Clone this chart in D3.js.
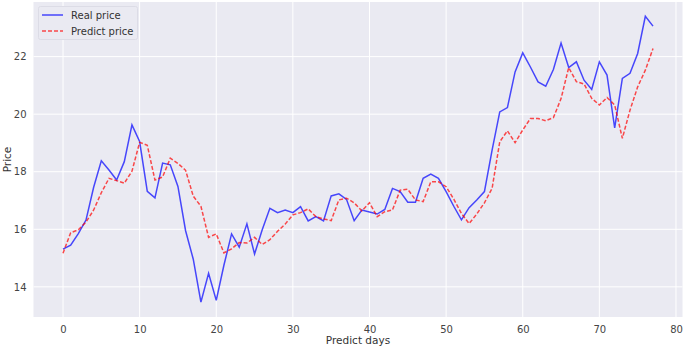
<!DOCTYPE html>
<html lang="en">
<head>
  <meta charset="UTF-8">
  <title>Real vs predict price</title>
  <style>
    body { margin: 0; background: #fff; }
    text { font-family: 'DejaVu Sans', sans-serif; }
  </style>
</head>
<body>

  <svg id="svg" width="685" height="349"></svg>

  <script src="https://d3js.org/d3.v7.min.js"></script>
  <script>
    // values, one per predict day (0..77)
    const realPrice = [
      15.31, 15.45, 15.85, 16.32, 17.46, 18.38, 18.06, 17.71, 18.35, 19.63,
      19.05, 17.32, 17.09, 18.30, 18.24, 17.49, 15.95, 14.96, 13.47, 14.47,
      13.53, 14.75, 15.84, 15.38, 16.19, 15.14, 15.98, 16.73, 16.58, 16.67,
      16.58, 16.79, 16.29, 16.44, 16.29, 17.16, 17.23, 17.04, 16.30, 16.67,
      16.60, 16.53, 16.69, 17.42, 17.31, 16.94, 16.94, 17.77, 17.92, 17.77,
      17.31, 16.80, 16.33, 16.75, 17.02, 17.31, 18.75, 20.08, 20.23, 21.47,
      22.13, 21.64, 21.12, 20.97, 21.55, 22.47, 21.62, 21.82, 21.18, 20.86,
      21.82, 21.36, 19.52, 21.24, 21.42, 22.11, 23.40, 23.06
    ]
    const predictPrice = [
      15.17, 15.88, 15.98, 16.25, 16.67, 17.27, 17.77, 17.69, 17.60, 18.02,
      19.02, 18.92, 17.71, 17.82, 18.47, 18.29, 18.05, 17.15, 16.80, 15.72,
      15.84, 15.18, 15.32, 15.54, 15.52, 15.72, 15.47, 15.64, 15.93, 16.18,
      16.50, 16.58, 16.71, 16.44, 16.36, 16.30, 17.02, 17.08, 16.92, 16.64,
      16.92, 16.44, 16.61, 16.67, 17.36, 17.39, 17.02, 16.96, 17.65, 17.65,
      17.48, 17.05, 16.55, 16.20, 16.53, 16.92, 17.42, 19.04, 19.42, 19.01,
      19.45, 19.85, 19.85, 19.77, 19.88, 20.54, 21.62, 21.13, 21.05, 20.55,
      20.32, 20.58, 20.32, 19.16, 20.14, 20.95, 21.53, 22.28
    ]
    const xTicks = [0, 10, 20, 30, 40, 50, 60, 70, 80]
    const yTicks = [14, 16, 18, 20, 22]
    const seriesNames = ['Real price', 'Predict price']

    const svg = d3.select('#svg')

    const plotLeft = 33.5, plotRight = 682.5, plotTop = 2, plotBottom = 317

    const xScale = d3.scaleLinear()
      .domain([-3.85, 80.85])
      .range([plotLeft, plotRight])

    const yScale = d3.scaleLinear()
      .domain([12.952, 23.898])
      .range([plotBottom, plotTop])

    // plot background
    svg.append('rect')
      .attr('x', plotLeft)
      .attr('y', plotTop)
      .attr('width', plotRight - plotLeft)
      .attr('height', plotBottom - plotTop)
      .attr('fill', '#eaeaf2')

    // grid
    svg.append('g')
      .selectAll('line')
      .data(xTicks)
      .enter()
      .append('line')
      .attr('x1', d => xScale(d))
      .attr('x2', d => xScale(d))
      .attr('y1', plotTop)
      .attr('y2', plotBottom)
      .attr('stroke', '#fff')
      .attr('stroke-width', 1)

    svg.append('g')
      .selectAll('line')
      .data(yTicks)
      .enter()
      .append('line')
      .attr('x1', plotLeft)
      .attr('x2', plotRight)
      .attr('y1', d => yScale(d))
      .attr('y2', d => yScale(d))
      .attr('stroke', '#fff')
      .attr('stroke-width', 1)

    // axes (tick labels only, seaborn style)
    const xAxis = svg.append('g')
      .attr('transform', `translate(0,${plotBottom})`)
      .call(d3.axisBottom(xScale).tickValues(xTicks).tickSize(0).tickPadding(9))
    const yAxis = svg.append('g')
      .attr('transform', `translate(${plotLeft},0)`)
      .call(d3.axisLeft(yScale).tickValues(yTicks).tickSize(0).tickPadding(7))

    ;[xAxis, yAxis].forEach(a => {
      a.select('.domain').remove()
      a.selectAll('text')
        .style('font-family', 'DejaVu Sans')
        .style('font-size', '10px')
        .attr('fill', '#444')
    })

    // lines
    const line = d3.line()
      .x((d, i) => xScale(i))
      .y(d => yScale(d))

    svg.append('path')
      .datum(realPrice)
      .attr('d', line)
      .attr('fill', 'none')
      .attr('stroke', 'blue')
      .attr('stroke-opacity', 0.7)
      .attr('stroke-width', 1.5)

    svg.append('path')
      .datum(predictPrice)
      .attr('d', line)
      .attr('fill', 'none')
      .attr('stroke', 'red')
      .attr('stroke-opacity', 0.7)
      .attr('stroke-width', 1.5)
      .attr('stroke-dasharray', '4,2')

    // axis labels
    svg.append('text')
      .text('Predict days')
      .attr('x', (plotLeft + plotRight) / 2)
      .attr('y', 344)
      .attr('text-anchor', 'middle')
      .style('font-size', '10.5px')
      .attr('fill', '#333')

    svg.append('text')
      .text('Price')
      .attr('transform', `translate(11,${(plotTop + plotBottom) / 2}) rotate(-90)`)
      .attr('text-anchor', 'middle')
      .style('font-size', '10.5px')
      .attr('fill', '#333')

    // legend
    const legend = svg.append('g')
    legend.append('rect')
      .attr('x', 38.5)
      .attr('y', 6.5)
      .attr('width', 99)
      .attr('height', 33)
      .attr('rx', 2)
      .attr('fill', '#eaeaf2')
      .attr('stroke', '#dcdce6')

    const rows = legend.selectAll('g.row')
      .data(seriesNames)
      .enter()
      .append('g')
      .attr('class', 'row')
      .attr('transform', (d, i) => `translate(0,${15 + i * 16})`)

    rows.append('line')
      .attr('x1', 42)
      .attr('x2', 63)
      .attr('y1', 0)
      .attr('y2', 0)
      .attr('stroke', (d, i) => i === 0 ? 'blue' : 'red')
      .attr('stroke-opacity', 0.7)
      .attr('stroke-width', 1.5)
      .attr('stroke-dasharray', (d, i) => i === 0 ? null : '4,2')

    rows.append('text')
      .text(d => d)
      .attr('x', 71)
      .attr('y', 3.5)
      .style('font-size', '10px')
      .attr('fill', '#333')
  </script>
</body>
</html>
